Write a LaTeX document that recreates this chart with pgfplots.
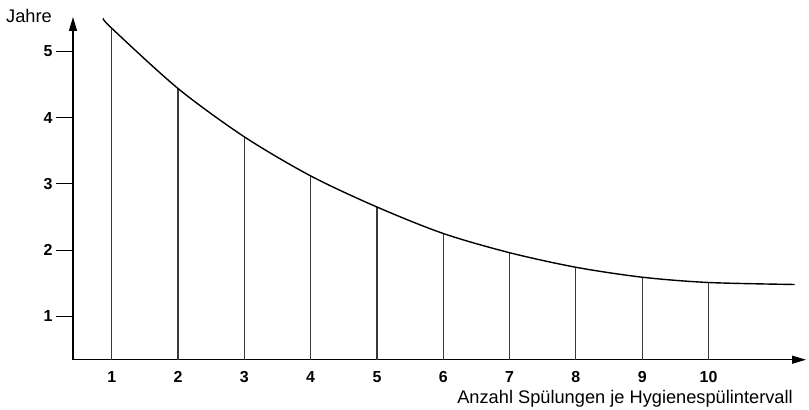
\documentclass[border=0pt]{standalone}
\usepackage{fontspec}
\setmainfont{Liberation Sans}
\usepackage{pgfplots}
\usepackage{pgfplotstable}
\pgfplotsset{compat=1.18}
\usetikzlibrary{arrows.meta}

% curve
\pgfplotstableread{
x y
0.87 5.50
1 5.35
2 4.44
3 3.71
4 3.12
5 2.65
6 2.25
7 1.96
8 1.74
9 1.59
10 1.51
11.3 1.48
}\curvedata

% drop lines at 1..10
\pgfplotstableread{
x y
1 5.35
2 4.44
3 3.71
4 3.12
5 2.65
6 2.25
7 1.96
8 1.74
9 1.59
10 1.51
}\dropdata

\begin{document}
\begin{tikzpicture}[x=1bp,y=1bp]
\path[use as bounding box] (-73,-49.3) rectangle (736,359.7);
\begin{axis}[
    scale only axis,
    width=733bp, height=342.7bp,
    xmin=0.416, xmax=11.47,
    ymin=0.344, ymax=5.52,
    axis lines=left,
    axis line style={line width=1.3bp, -{Triangle[length=14bp,width=8bp]}},
    xtick={1,...,10},
    ytick={1,...,5},
    tick align=outside,
    major tick length=17bp,
    xtick style={draw=none},
    ytick style={line width=1bp, black},
    tick label style={font=\bfseries\fontsize{16}{19}\selectfont},
    xticklabel style={yshift=9bp},
    /pgf/number format/assume math mode=true,
    xlabel={Anzahl Spülungen je Hygienespülintervall},
    xlabel style={font=\fontsize{18.3}{21}\selectfont, inner sep=0pt,
        at={(axis description cs:1,0)}, anchor=base east, xshift=-13bp, yshift=-44bp},
    clip=false,
]
\addplot[ycomb, draw=black!78, line width=1.1bp, no marks] table {\dropdata};
\addplot[smooth, black, line width=1.4bp, no marks] table {\curvedata};
\node[font=\fontsize{18.3}{21}\selectfont, inner sep=0pt, anchor=base east,
    xshift=-21bp, yshift=-6bp] at (rel axis cs:0,1) {Jahre};
\end{axis}
\end{tikzpicture}
\end{document}
